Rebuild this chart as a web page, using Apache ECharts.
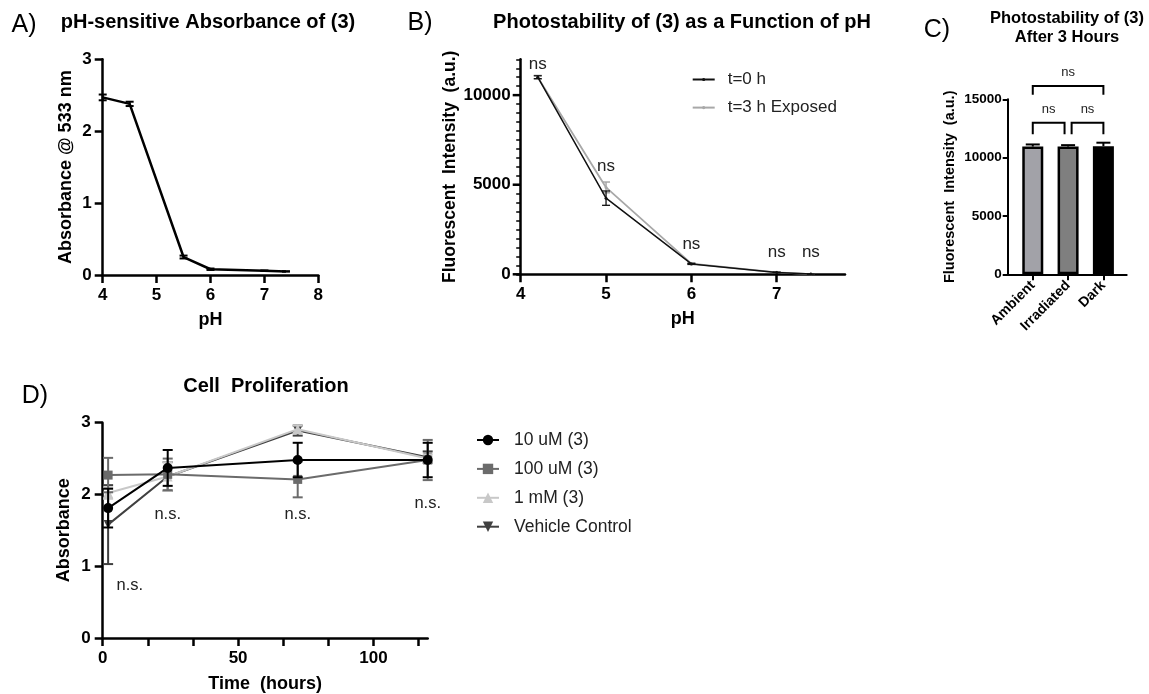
<!DOCTYPE html>
<html><head><meta charset="utf-8">
<script src="https://cdn.jsdelivr.net/npm/echarts@6/dist/echarts.min.js"></script>
<style>html,body{margin:0;padding:0;background:#fff}#c{width:1149px;height:694px}</style>
</head><body><div id="c"></div>
<script>
// ---------- Panel A data ----------
const phA = [4, 4.5, 5.5, 6, 7, 7.4];
const absA = [2.47, 2.38, 0.25, 0.08, 0.06, 0.05];
const absAErr = [0.04, 0.03, 0.02, 0.01, 0, 0];
const ticksAX = [4, 5, 6, 7, 8];
// ---------- Panel B data ----------
const phB = [4.2, 5, 6, 7, 7.4];
const fluorT0 = [11000, 4250, 580, 100, 10];
const fluorT0Err = [80, 400, 30, 20, 5];
const fluorT3 = [11000, 4850, 600, 110, 15];
const fluorT3Err = [100, 300, 30, 20, 5];
const nsBLabels = ['ns', 'ns', 'ns', 'ns', 'ns'];
const nsBPos = [[4.2, 11700], [5, 6000], [6, 1650], [7, 1250], [7.4, 1250]];
const ticksBX = [4, 5, 6, 7];
const ticksBY = [0, 5000, 10000];
// ---------- Panel C data ----------
const condC = ['Ambient', 'Irradiated', 'Dark'];
const fluorC = [10950, 10950, 10980];
const fluorCErr = [180, 120, 300];
// brackets: [from position, to position, bracket level, leg end]
const bracketsC = [[1, 3, 16150, 15400], [1, 1.9, 13000, 12000], [2.1, 3, 13000, 12000]];
const bracketLabelsC = ['ns', 'ns', 'ns'];
// ---------- Panel D data ----------
const timeD = [2, 24, 72, 120];
const d10uM = [1.81, 2.37, 2.48, 2.48];
const d10uMErr = [0.27, 0.25, 0.24, 0.24];
const d100uM = [2.27, 2.28, 2.21, 2.48];
const d100uMErr = [0.24, 0.22, 0.25, 0.28];
const d1mM = [2.02, 2.25, 2.91, 2.50];
const d1mMErr = [0.08, 0.2, 0.05, 0.06];
const dVeh = [1.58, 2.25, 2.89, 2.52];
const dVehErr = [0.55, 0.2, 0.07, 0.08];
const nsDLabels = ['n.s.', 'n.s.', 'n.s.', 'n.s.'];
const nsDPos = [[10, 0.73], [24, 1.72], [72, 1.72], [120, 1.88]];
const ticksDX = [0, 16.667, 33.333, 50, 66.667, 83.333, 100, 116.667];
const labelsDX = [0, 50, 100];

const FONT = '"Liberation Sans", Arial, sans-serif';
const plain = v => String(v);

function errData(xs, v, e) { return xs.map((x, i) => [x, v[i] - e[i], v[i] + e[i]]); }
function errRender(color, cap, lw, upOnly) {
  return function (params, api) {
    const x = api.value(0), lo = api.value(1), hi = api.value(2);
    const p1 = api.coord([x, lo]), p2 = api.coord([x, hi]);
    const mid = upOnly ? api.coord([x, (lo + hi) / 2]) : p1;
    const st = { stroke: color, lineWidth: lw };
    const ch = [
      { type: 'line', shape: { x1: mid[0], y1: mid[1], x2: p2[0], y2: p2[1] }, style: st },
      { type: 'line', shape: { x1: p2[0] - cap, y1: p2[1], x2: p2[0] + cap, y2: p2[1] }, style: st }
    ];
    if (!upOnly) ch.push({ type: 'line', shape: { x1: p1[0] - cap, y1: p1[1], x2: p1[0] + cap, y2: p1[1] }, style: st });
    return { type: 'group', children: ch };
  };
}
function textRender(labels, size, color) {
  return function (params, api) {
    const p = api.coord([api.value(0), api.value(1)]);
    return { type: 'text', x: p[0], y: p[1], style: { text: labels[params.dataIndex], align: 'center', verticalAlign: 'middle', fontSize: size, fontFamily: FONT, fill: color } };
  };
}

const axisLineS = (w) => ({ show: true, lineStyle: { color: '#000', width: w } });
const tickS = (len, w) => ({ show: true, length: len, lineStyle: { color: '#000', width: w } });
const labelS = (size, margin) => ({ color: '#000', fontWeight: 'bold', fontSize: size, fontFamily: FONT, margin: margin, formatter: plain });
const nameS = (size) => ({ color: '#000', fontWeight: 'bold', fontSize: size, fontFamily: FONT });
const gText = (x, y, text, size, bold) => ({ type: 'text', x: x, y: y, style: { text: text, fontSize: size, fontWeight: bold ? 'bold' : 'normal', fontFamily: FONT, fill: '#000', align: 'center', verticalAlign: 'middle' } });

const option = {
  animation: false,
  textStyle: { fontFamily: FONT },
  graphic: [
    gText(24, 25, 'A)', 25, false),
    gText(208, 22, 'pH-sensitive Absorbance of (3)', 20, true),
    gText(420, 23, 'B)', 25, false),
    gText(682, 22, 'Photostability of (3) as a Function of pH', 20, true),
    gText(937, 30, 'C)', 25, false),
    gText(1067, 18, 'Photostability of (3)', 16.5, true),
    gText(1067, 37, 'After 3 Hours', 16.5, true),
    gText(35, 396, 'D)', 25, false),
    gText(266, 386, 'Cell  Proliferation', 20, true)
  ],
  grid: [
    { left: 102.7, top: 59.3, width: 215.6, height: 215.7 },
    { left: 520.7, top: 59.3, width: 324.3, height: 215 },
    { left: 1007.7, top: 99.3, width: 119, height: 175 },
    { left: 102.7, top: 422.7, width: 325, height: 216.6 }
  ],
  legend: [
    { orient: 'vertical', left: 686.7, top: 66, itemWidth: 22, itemHeight: 4, itemGap: 11.1,
      data: ['t=0 h', 't=3 h Exposed'], textStyle: { fontSize: 17, color: '#222', fontFamily: FONT, padding: [0, 0, 0, 8] } },
    { orient: 'vertical', left: 471, top: 426, itemWidth: 22, itemHeight: 13, itemGap: 10.9,
      data: ['10 uM (3)', '100 uM (3)', '1 mM (3)', 'Vehicle Control'], textStyle: { fontSize: 17.5, color: '#222', fontFamily: FONT, padding: [0, 0, 0, 10] } }
  ],
  xAxis: [
    { gridIndex: 0, type: 'value', min: 4, max: 8, interval: 1, name: 'pH', nameLocation: 'middle', nameGap: 36, nameTextStyle: nameS(18),
      axisLine: axisLineS(2.5), axisTick: tickS(8, 2.5), axisLabel: Object.assign(labelS(17, 12), { customValues: ticksAX }), splitLine: { show: false } },
    { gridIndex: 1, type: 'value', min: 4, max: 7.8, name: 'pH', nameLocation: 'middle', nameGap: 36, nameTextStyle: nameS(18),
      axisLine: axisLineS(2.5), axisTick: Object.assign(tickS(8, 2.5), { customValues: ticksBX }), axisLabel: Object.assign(labelS(17, 12), { customValues: ticksBX }), splitLine: { show: false } },
    { gridIndex: 2, type: 'value', min: 0.29, max: 3.66,
      axisLine: axisLineS(2), axisTick: Object.assign(tickS(6, 2), { customValues: [1, 2, 3] }),
      axisLabel: Object.assign(labelS(14, 9), { customValues: [1, 2, 3], rotate: 45, formatter: v => condC[Math.round(v) - 1] || '' }), splitLine: { show: false } },
    { gridIndex: 3, type: 'value', min: 0, max: 120, name: 'Time  (hours)', nameLocation: 'middle', nameGap: 37, nameTextStyle: nameS(18),
      axisLine: axisLineS(2.5), axisTick: Object.assign(tickS(8, 2.5), { customValues: ticksDX }), axisLabel: Object.assign(labelS(17, 12), { customValues: labelsDX }), splitLine: { show: false } }
  ],
  yAxis: [
    { gridIndex: 0, type: 'value', min: 0, max: 3, interval: 1, name: 'Absorbance @ 533 nm', nameLocation: 'middle', nameGap: 28, nameTextStyle: nameS(18),
      axisLine: axisLineS(2.5), axisTick: tickS(8, 2.5), axisLabel: labelS(17, 11), splitLine: { show: false } },
    { gridIndex: 1, type: 'value', position: 'left', min: 0, max: 12000, interval: 500,
      name: 'Fluorescent  Intensity  (a.u.)', nameLocation: 'middle', nameGap: 61, nameTextStyle: nameS(17.5),
      axisLine: axisLineS(2.5), axisTick: tickS(4.5, 1.5),
      axisLabel: Object.assign(labelS(17, 10), { customValues: ticksBY }), splitLine: { show: false } },
    { gridIndex: 2, type: 'value', min: 0, max: 15000, interval: 5000, name: 'Fluorescent  Intensity  (a.u.)', nameLocation: 'middle', nameGap: 50, nameTextStyle: nameS(14.5),
      axisLine: axisLineS(2), axisTick: tickS(5, 2), axisLabel: labelS(13.5, 6), splitLine: { show: false } },
    { gridIndex: 3, type: 'value', min: 0, max: 3, interval: 1, name: 'Absorbance', nameLocation: 'middle', nameGap: 30, nameTextStyle: nameS(18),
      axisLine: axisLineS(2.5), axisTick: tickS(8, 2.5), axisLabel: labelS(17, 12), splitLine: { show: false } }
  ],
  series: [
    // Panel A
    { type: 'line', xAxisIndex: 0, yAxisIndex: 0, data: phA.map((x, i) => [x, absA[i]]), symbol: 'none', lineStyle: { color: '#000', width: 2.5 }, z: 3 },
    { type: 'custom', xAxisIndex: 0, yAxisIndex: 0, data: errData(phA, absA, absAErr), renderItem: errRender('#000', 4, 2), encode: { x: 0, y: [1, 2] }, z: 4 },
    // Panel B: long major ticks on the y axis at labelled values
    { type: 'custom', xAxisIndex: 1, yAxisIndex: 1, data: ticksBY.map(v => [4, v]), encode: { x: 0, y: 1 }, clip: false, z: 6,
      renderItem: function (params, api) {
        const p = api.coord([api.value(0), api.value(1)]);
        return { type: 'line', shape: { x1: p[0] - 8, y1: p[1], x2: p[0], y2: p[1] }, style: { stroke: '#000', lineWidth: 2.5 } };
      } },
    { type: 'line', name: 't=3 h Exposed', xAxisIndex: 1, yAxisIndex: 1, data: phB.map((x, i) => [x, fluorT3[i]]), symbol: 'circle', symbolSize: 3, itemStyle: { color: '#a8a8a8' }, lineStyle: { color: '#a8a8a8', width: 1.8 }, z: 3 },
    { type: 'custom', xAxisIndex: 1, yAxisIndex: 1, data: errData(phB, fluorT3, fluorT3Err), renderItem: errRender('#a8a8a8', 4, 1.5), encode: { x: 0, y: [1, 2] }, z: 3 },
    { type: 'line', name: 't=0 h', xAxisIndex: 1, yAxisIndex: 1, data: phB.map((x, i) => [x, fluorT0[i]]), symbol: 'circle', symbolSize: 3, itemStyle: { color: '#111' }, lineStyle: { color: '#111', width: 1.5 }, z: 4 },
    { type: 'custom', xAxisIndex: 1, yAxisIndex: 1, data: errData(phB, fluorT0, fluorT0Err), renderItem: errRender('#111', 4, 1.3), encode: { x: 0, y: [1, 2] }, z: 4 },
    { type: 'custom', xAxisIndex: 1, yAxisIndex: 1, data: nsBPos, renderItem: textRender(nsBLabels, 17, '#222'), encode: { x: 0, y: 1 }, z: 5 },
    // Panel C
    { type: 'bar', xAxisIndex: 2, yAxisIndex: 2, barWidth: 21,
      data: fluorC.map((v, i) => ({ value: [i + 1, v], itemStyle: { color: ['#a2a2a8', '#7f7f7f', '#000000'][i], borderColor: '#000', borderWidth: 2.5 } })), z: 3 },
    { type: 'custom', xAxisIndex: 2, yAxisIndex: 2, data: errData([1, 2, 3], fluorC, fluorCErr), renderItem: errRender('#000', 7, 2, true), encode: { x: 0, y: [1, 2] }, z: 2 },
    { type: 'custom', xAxisIndex: 2, yAxisIndex: 2, data: bracketsC, encode: { x: [0, 1], y: [2, 3] }, clip: false, z: 5,
      renderItem: function (params, api) {
        const x1 = api.value(0), x2 = api.value(1), top = api.value(2), leg = api.value(3);
        const a = api.coord([x1, leg]), b = api.coord([x1, top]), c = api.coord([x2, top]), d = api.coord([x2, leg]);
        return { type: 'group', children: [
          { type: 'polyline', shape: { points: [a, b, c, d] }, style: { stroke: '#000', lineWidth: 2, fill: null } },
          { type: 'text', x: (b[0] + c[0]) / 2, y: b[1] - 13, style: { text: bracketLabelsC[params.dataIndex], align: 'center', verticalAlign: 'middle', fontSize: 13, fontFamily: FONT, fill: '#222' } }
        ] };
      } },
    // Panel D (draw order: vehicle, 1 mM, 100 uM, 10 uM)
    { type: 'custom', xAxisIndex: 3, yAxisIndex: 3, data: errData(timeD, dVeh, dVehErr), renderItem: errRender('#404040', 5, 2), encode: { x: 0, y: [1, 2] }, z: 2 },
    { type: 'line', name: 'Vehicle Control', xAxisIndex: 3, yAxisIndex: 3, data: timeD.map((x, i) => [x, dVeh[i]]), symbol: 'triangle', symbolRotate: 180, symbolSize: 9, itemStyle: { color: '#404040' }, lineStyle: { color: '#404040', width: 2 }, z: 2 },
    { type: 'custom', xAxisIndex: 3, yAxisIndex: 3, data: errData(timeD, d1mM, d1mMErr), renderItem: errRender('#c8c8c8', 5, 2), encode: { x: 0, y: [1, 2] }, z: 3 },
    { type: 'line', name: '1 mM (3)', xAxisIndex: 3, yAxisIndex: 3, data: timeD.map((x, i) => [x, d1mM[i]]), symbol: 'triangle', symbolSize: 10, itemStyle: { color: '#c8c8c8' }, lineStyle: { color: '#c8c8c8', width: 2 }, z: 3 },
    { type: 'custom', xAxisIndex: 3, yAxisIndex: 3, data: errData(timeD, d100uM, d100uMErr), renderItem: errRender('#6b6b6b', 5, 2), encode: { x: 0, y: [1, 2] }, z: 4 },
    { type: 'line', name: '100 uM (3)', xAxisIndex: 3, yAxisIndex: 3, data: timeD.map((x, i) => [x, d100uM[i]]), symbol: 'rect', symbolSize: 9, itemStyle: { color: '#6b6b6b' }, lineStyle: { color: '#6b6b6b', width: 2 }, z: 4 },
    { type: 'custom', xAxisIndex: 3, yAxisIndex: 3, data: errData(timeD, d10uM, d10uMErr), renderItem: errRender('#000', 5, 2), encode: { x: 0, y: [1, 2] }, z: 5 },
    { type: 'line', name: '10 uM (3)', xAxisIndex: 3, yAxisIndex: 3, data: timeD.map((x, i) => [x, d10uM[i]]), symbol: 'circle', symbolSize: 10, itemStyle: { color: '#000' }, lineStyle: { color: '#000', width: 2 }, z: 5 },
    { type: 'custom', xAxisIndex: 3, yAxisIndex: 3, data: nsDPos, renderItem: textRender(nsDLabels, 16.5, '#222'), encode: { x: 0, y: 1 }, z: 6 }
  ]
};
const chart = echarts.init(document.getElementById('c'), null, { renderer: 'canvas' });
chart.setOption(option);
</script></body></html>
